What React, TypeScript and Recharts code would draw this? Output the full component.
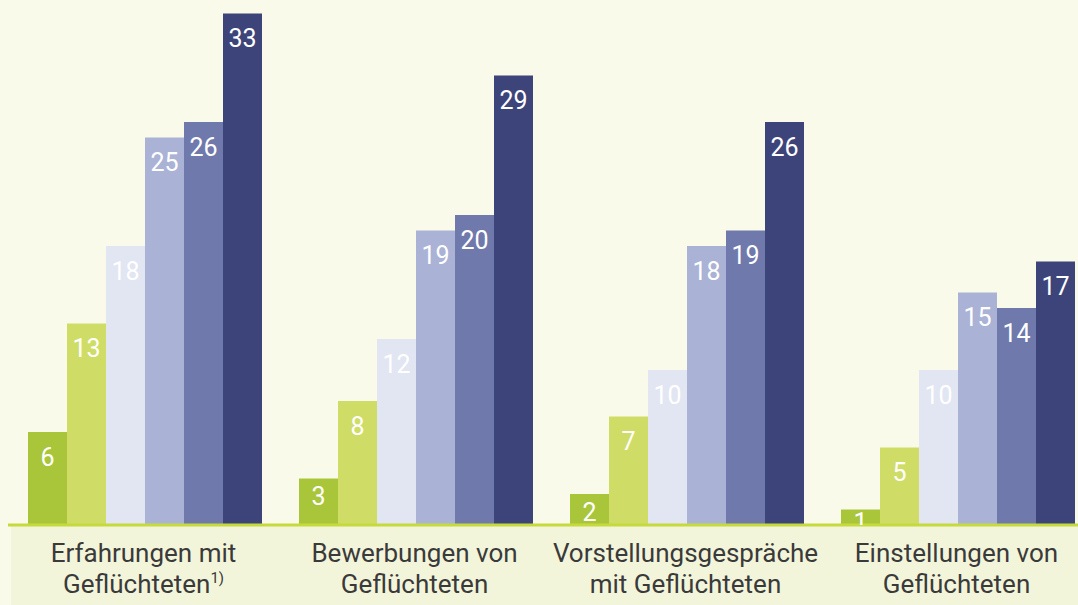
import React from "react";
import { BarChart, Bar, XAxis, YAxis } from "recharts";

const categoryLine1 = ["Erfahrungen mit", "Bewerbungen von", "Vorstellungsgespräche", "Einstellungen von"];
const categoryLine2 = ["Geflüchteten", "Geflüchteten", "mit Geflüchteten", "Geflüchteten"];
const categoryNote = ["1)", "", "", ""];

const series1 = [6, 3, 2, 1];
const series2 = [13, 8, 7, 5];
const series3 = [18, 12, 10, 10];
const series4 = [25, 19, 18, 15];
const series5 = [26, 20, 19, 14];
const series6 = [33, 29, 26, 17];

const seriesColors = ["#a9c63a", "#cfdd66", "#e2e5f2", "#aab2d6", "#7079ab", "#3d4479"];

const data = categoryLine1.map((c, i) => ({
  name: c,
  line2: categoryLine2[i],
  note: categoryNote[i],
  s1: series1[i],
  s2: series2[i],
  s3: series3[i],
  s4: series4[i],
  s5: series5[i],
  s6: series6[i],
}));

const FONT = "Roboto, 'Noto Sans', sans-serif";

let clipCounter = 0;
const BarLabel = (props: any) => {
  const { x, y, width, height, value } = props;
  const id = `lblclip-${clipCounter++}`;
  let off = 34;
  if (height < 60) off = height >= 30 ? 27 : 22;
  return (
    <g>
      <defs>
        <clipPath id={id}>
          <rect x={x} y={y} width={width} height={height} />
        </clipPath>
      </defs>
      <text
        x={x + width / 2}
        y={y + off}
        textAnchor="middle"
        fill="#ffffff"
        fontFamily={FONT}
        fontSize={25}
        clipPath={`url(#${id})`}
      >
        {value}
      </text>
    </g>
  );
};

const CategoryTick = (props: any) => {
  const { x, y, index } = props;
  const i = index ?? 0;
  return (
    <text x={x} y={y + 37} textAnchor="middle" fill="#3a3a3a" fontFamily={FONT} fontSize={26}>
      <tspan x={x}>{categoryLine1[i]}</tspan>
      <tspan x={x} dy={31}>
        {categoryLine2[i]}
        {categoryNote[i] ? (
          <tspan fontSize={15} dy={-10}>{categoryNote[i]}</tspan>
        ) : null}
      </tspan>
    </text>
  );
};

export default function App() {
  const keys = ["s1", "s2", "s3", "s4", "s5", "s6"];
  return (
    <div
      style={{
        position: "absolute",
        left: 0,
        top: 0,
        width: 1078,
        height: 605,
        overflow: "hidden",
        background: "#f9fae9",
      }}
    >
      <div
        style={{
          position: "absolute",
          left: 11,
          top: 526,
          width: 1067,
          height: 79,
          background: "#f3f5da",
        }}
      />
      <div style={{ position: "absolute", left: 0, top: 0 }}>
        <BarChart
          width={1100}
          height={605}
          data={data}
          margin={{ top: 0, left: 8, right: 8, bottom: 2 }}
          barGap={0}
          barCategoryGap={20}
        >
          <YAxis hide domain={[0, 33.87]} allowDataOverflow />
          <XAxis
            dataKey="name"
            height={78}
            axisLine={{ stroke: "#c6da3c", strokeWidth: 3 }}
            tickLine={false}
            tickSize={0}
            tickMargin={0}
            interval={0}
            tick={<CategoryTick />}
          />
          {keys.map((k, i) => (
            <Bar
              key={k}
              dataKey={k}
              fill={seriesColors[i]}
              isAnimationActive={false}
              label={<BarLabel />}
            />
          ))}
        </BarChart>
      </div>
    </div>
  );
}
